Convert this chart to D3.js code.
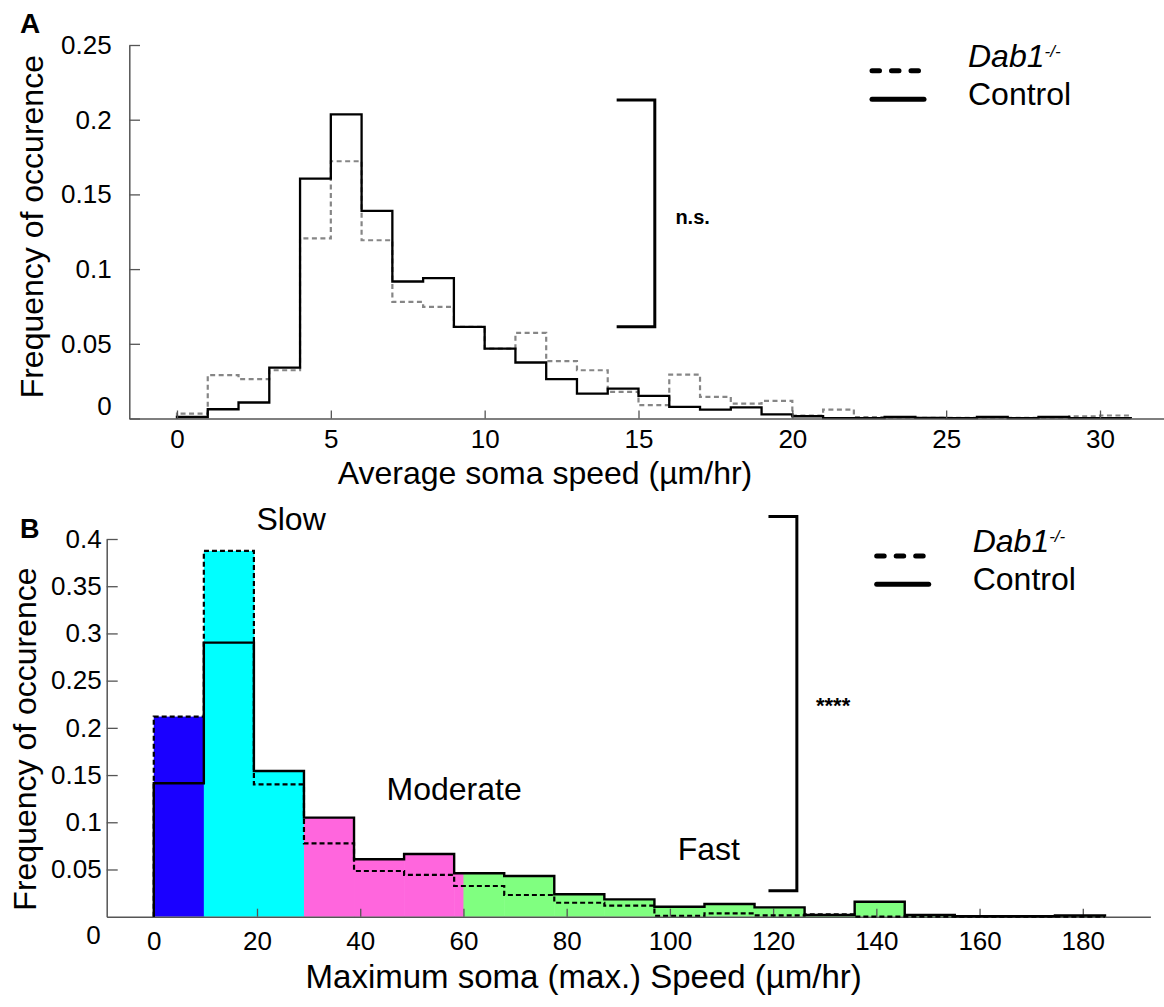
<!doctype html>
<html>
<head>
<meta charset="utf-8">
<script src="https://d3js.org/d3.v7.min.js"></script>
<style>
  body { margin: 0; background: #fff; }
  text { font-family: "Liberation Sans", Arial, Helvetica, sans-serif; fill: #000; }
</style>
</head>
<body>
<script>
// ---- Panel A: average soma speed, 1 um/hr bins ----
let edgesA = [0,1,2,3,4,5,6,7,8,9,10,11,12,13,14,15,16,17,18,19,20,21,22,23,24,25,26,27,28,29,30,31];
let controlA = [0.001, 0.0062, 0.0107, 0.034, 0.1606, 0.2035, 0.139, 0.0917, 0.094, 0.0613,
                0.0468, 0.0375, 0.0263, 0.0167, 0.020, 0.0151, 0.0078, 0.006, 0.0074, 0.0027,
                0.0015, 0.0002, 0.0002, 0.001, 0.0004, 0.0002, 0.001, 0.0002, 0.001, 0.0002, 0.0002];
let dab1A = [0.0033, 0.029, 0.0263, 0.0323, 0.1205, 0.1722, 0.1193, 0.078, 0.0747, 0.0613,
             0.0468, 0.0573, 0.0384, 0.0323, 0.0178, 0.0089, 0.0294, 0.0145, 0.0100, 0.0118,
             0.002, 0.006, 0.001, 0.0005, 0.0005, 0.0005, 0.0005, 0.0005, 0.0005, 0.0015, 0.002];
let xTicksA = [0, 5, 10, 15, 20, 25, 30];
let yTicksA = [0, 0.05, 0.1, 0.15, 0.2, 0.25];
let yLabelsA = ["0", "0.05", "0.1", "0.15", "0.2", "0.25"];

// ---- Panel B: maximum soma speed ----
let edgesB = [0, 9.7, 19.4, 29.1, 38.8, 48.5, 58.2, 67.9, 77.6, 87.3, 97.0,
              106.7, 116.4, 126.1, 135.8, 145.5, 155.2, 164.9, 174.6, 184.3];
let controlB = [0.1413, 0.2903, 0.1543, 0.1049, 0.0608, 0.0664, 0.046, 0.0431, 0.0237, 0.0184,
                0.0106, 0.0135, 0.0099, 0.0018, 0.0159, 0.0018, 0.0005, 0.0005, 0.0012];
let dab1B = [0.2119, 0.3874, 0.1402, 0.0777, 0.0484, 0.0442, 0.0325, 0.023, 0.0148, 0.0117,
             0.001, 0.0036, 0.0015, 0.0025, 0, 0, 0, 0, 0];
let zoneEdgesB = [0, 9.7, 29.1, 60, 184.3];
let zoneColors = ["#1a00ff", "#00ffff", "#ff66dd", "#80ff80"];
let xTicksB = [0, 20, 40, 60, 80, 100, 120, 140, 160, 180];
let yTicksB = [0.05, 0.1, 0.15, 0.2, 0.25, 0.3, 0.35, 0.4];
let yLabelsB = ["0.05", "0.1", "0.15", "0.2", "0.25", "0.3", "0.35", "0.4"];

let svg = d3.select("body").append("svg")
    .attr("width", 1164).attr("height", 1007)
    .style("background", "#fff");

function stepPoints(edges, vals) {
    let pts = [[edges[0], 0]];
    vals.forEach(function(v, i) { pts.push([edges[i], v]); });
    pts.push([edges[edges.length - 1], 0]);
    return pts;
}

function styleAxis(g, fs) {
    g.attr("font-family", null).attr("font-size", null);
    g.select(".domain").attr("stroke", "#555").attr("stroke-width", 1.5);
    g.selectAll(".tick line").attr("stroke", "#555").attr("stroke-width", 1.3);
    g.selectAll(".tick text").style("font-size", fs + "px").attr("fill", "#000");
}

function legend(x, y, gap) {
    let g = svg.append("g");
    g.append("line").attr("x1", x).attr("x2", x + 52).attr("y1", y).attr("y2", y)
        .attr("stroke", "#000").attr("stroke-width", 5).attr("stroke-linecap", "round")
        .attr("stroke-dasharray", "7.5,12");
    g.append("line").attr("x1", x).attr("x2", x + 52).attr("y1", y + gap).attr("y2", y + gap)
        .attr("stroke", "#000").attr("stroke-width", 5).attr("stroke-linecap", "round");
    let t = g.append("text").attr("x", x + 96).attr("y", y - 4)
        .style("font-size", "32px").style("font-style", "italic");
    t.append("tspan").text("Dab1");
    t.append("tspan").attr("dy", -10).style("font-size", "17px").text("-/-");
    g.append("text").attr("x", x + 96).attr("y", y + gap + 6)
        .style("font-size", "32px").text("Control");
}

// ================= Panel A =================
let xA = d3.scaleLinear().domain([-1.55, 32.08]).range([129.3, 1164]);
let yA = d3.scaleLinear().domain([0, 0.25]).range([418.5, 45]);
let stepA = d3.line().x(d => xA(d[0])).y(d => yA(d[1])).curve(d3.curveStepAfter);

svg.append("path").datum(stepPoints(edgesA, dab1A)).attr("d", stepA)
    .attr("fill", "none").attr("stroke", "#868686").attr("stroke-width", 2.2)
    .attr("stroke-dasharray", "5,3.5");
svg.append("path").datum(stepPoints(edgesA, controlA)).attr("d", stepA)
    .attr("fill", "none").attr("stroke", "#000").attr("stroke-width", 2.3);

let gxA = svg.append("g").attr("transform", "translate(0,418.5)")
    .call(d3.axisBottom(xA).tickValues(xTicksA).tickSize(-8).tickSizeOuter(0).tickPadding(11));
styleAxis(gxA, 26);
let gyA = svg.append("g").attr("transform", "translate(129.3,0)")
    .call(d3.axisLeft(yA).tickValues(yTicksA).tickSize(-10.7).tickSizeOuter(0).tickPadding(17.6)
        .tickFormat((d, i) => yLabelsA[i]));
styleAxis(gyA, 26);
gyA.selectAll(".tick text").filter(d => d === 0).attr("y", -12);

svg.append("text").attr("x", 545).attr("y", 484).attr("text-anchor", "middle")
    .style("font-size", "32px").text("Average soma speed (\u00b5m/hr)");
svg.append("text").attr("transform", "translate(43,226.7) rotate(-90)").attr("text-anchor", "middle")
    .style("font-size", "32px").text("Frequency of occurence");
svg.append("text").attr("x", 20).attr("y", 33.3).style("font-size", "28px")
    .style("font-weight", "bold").text("A");

// significance bracket A
svg.append("path")
    .attr("d", d3.line()([[xA(14.29), yA(0.2132)], [xA(15.53), yA(0.2132)],
                           [xA(15.53), yA(0.0614)], [xA(14.29), yA(0.0614)]]))
    .attr("fill", "none").attr("stroke", "#000").attr("stroke-width", 3);
svg.append("text").attr("x", xA(16.2)).attr("y", yA(0.13)).style("font-size", "20px")
    .style("font-weight", "bold").text("n.s.");

legend(872, 70.7, 28.6);

// ================= Panel B =================
let xB = d3.scaleLinear().domain([-9.14, 193.1]).range([106.6, 1150.4]);
let yB = d3.scaleLinear().domain([0, 0.4]).range([916.7, 539]);
let stepB = d3.line().x(d => xB(d[0])).y(d => yB(d[1])).curve(d3.curveStepAfter);

// coloured fills under the higher of the two curves, split by speed class
let fills = [];
controlB.forEach(function(c, i) {
    let top = Math.max(c, dab1B[i]);
    zoneColors.forEach(function(col, z) {
        let a = Math.max(edgesB[i], zoneEdgesB[z]);
        let b = Math.min(edgesB[i + 1], zoneEdgesB[z + 1]);
        if (b > a) fills.push({a: a, b: b, v: top, col: col});
    });
});
svg.append("g").selectAll("rect").data(fills).enter().append("rect")
    .attr("x", d => xB(d.a)).attr("width", d => xB(d.b) - xB(d.a) + 0.5)
    .attr("y", d => yB(d.v)).attr("height", d => yB(0) - yB(d.v))
    .attr("fill", d => d.col);

let gxB = svg.append("g").attr("transform", "translate(0,916.7)")
    .call(d3.axisBottom(xB).tickValues(xTicksB).tickSize(-8).tickSizeOuter(0).tickPadding(15));
styleAxis(gxB, 26);
let gyB = svg.append("g").attr("transform", "translate(106.7,0)")
    .call(d3.axisLeft(yB).tickValues(yTicksB).tickSize(-11).tickSizeOuter(0).tickPadding(5)
        .tickFormat((d, i) => yLabelsB[i]));
styleAxis(gyB, 26);
svg.append("text").attr("x", 93.5).attr("y", 944).attr("text-anchor", "middle")
    .style("font-size", "26px").text("0");

svg.append("path").datum(stepPoints(edgesB, controlB)).attr("d", stepB)
    .attr("fill", "none").attr("stroke", "#000").attr("stroke-width", 2.4);
svg.append("path").datum(stepPoints(edgesB, dab1B)).attr("d", stepB)
    .attr("fill", "none").attr("stroke", "#000").attr("stroke-width", 2.2)
    .attr("stroke-dasharray", "5,3");

svg.append("text").attr("x", 583.7).attr("y", 988).attr("text-anchor", "middle")
    .style("font-size", "33px").text("Maximum soma (max.) Speed (\u00b5m/hr)");
svg.append("text").attr("transform", "translate(36,739) rotate(-90)").attr("text-anchor", "middle")
    .style("font-size", "32px").text("Frequency of occurence");
svg.append("text").attr("x", 20).attr("y", 538.3).style("font-size", "27px")
    .style("font-weight", "bold").text("B");

svg.append("text").attr("x", xB(26.6)).attr("y", 530).attr("text-anchor", "middle")
    .style("font-size", "32px").text("Slow");
svg.append("text").attr("x", xB(45.1)).attr("y", yB(0.124)).style("font-size", "32px").text("Moderate");
svg.append("text").attr("x", xB(101.5)).attr("y", yB(0.06)).style("font-size", "32px").text("Fast");

// significance bracket B
svg.append("path")
    .attr("d", d3.line()([[xB(119.1), yB(0.4237)], [xB(124.6), yB(0.4237)],
                           [xB(124.6), yB(0.0275)], [xB(119.1), yB(0.0275)]]))
    .attr("fill", "none").attr("stroke", "#000").attr("stroke-width", 3);
svg.append("text").attr("x", xB(128.3)).attr("y", 713).style("font-size", "22px")
    .style("font-weight", "bold").text("****");

legend(876.7, 556, 28.3);
</script>
</body>
</html>
